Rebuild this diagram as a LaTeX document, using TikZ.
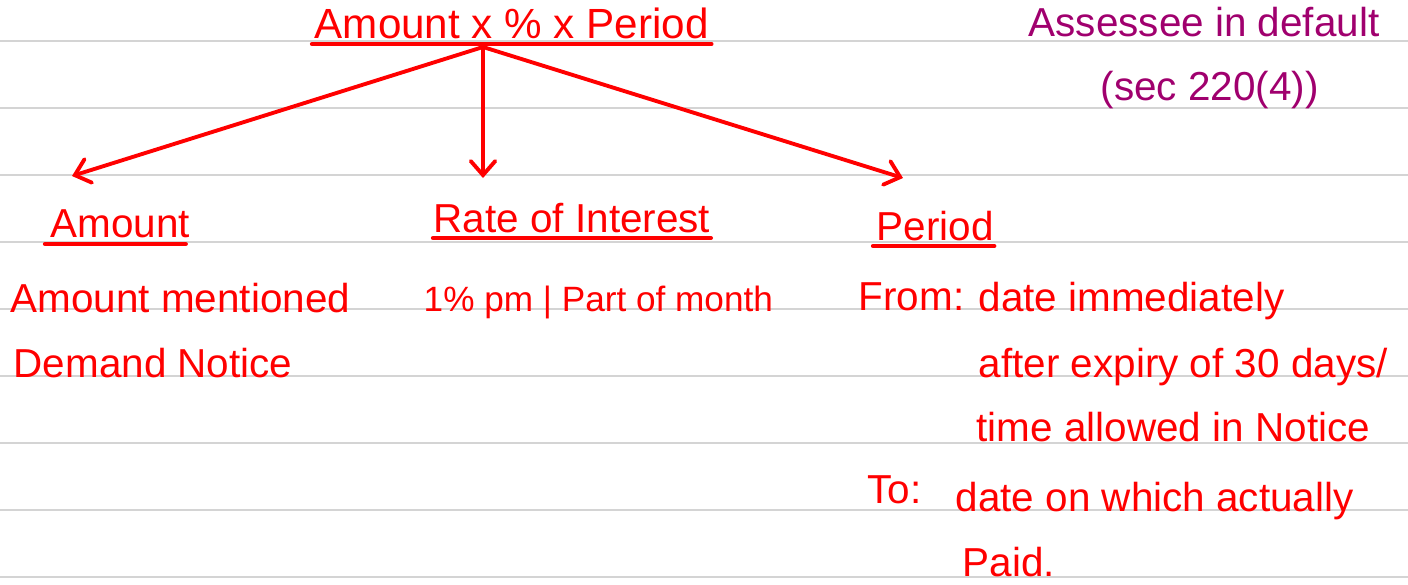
\documentclass[tikz,border=0pt]{standalone}
\usepackage{fontspec}
\setmainfont{Liberation Sans}
\usetikzlibrary{arrows.meta}
\definecolor{inkred}{RGB}{255,0,0}
\definecolor{inkplum}{RGB}{160,0,110}
\definecolor{rulegray}{RGB}{212,212,212}
\tikzset{
  barb/.tip={Straight Barb[length=4pt,width=7pt,line cap=round]},
  ruling/.style={rulegray,line width=0.6pt},
  note/.style={inkred,anchor=base west,inner sep=0pt,font=\fontsize{11.5}{14}\selectfont},
  aside/.style={note,text=inkplum},
  uline/.style={inkred,line width=1.2pt,line cap=round},
  branch/.style={inkred,line width=1.1pt,line cap=round,-barb}
}

\begin{document}
\begin{tikzpicture}[x=0.01cm,y=-0.01cm]
    \useasboundingbox (0,0) rectangle (1408,584);
    \foreach \y in {41,108,...,577}
        \draw[ruling] (0,\y) -- (1408,\y);

    \node[note,font=\fontsize{12}{14}\selectfont] (formula) at (314,38) {Amount x \% x Period};
    \draw[uline] ([shift={(-2,6)}]formula.base west) -- ([shift={(2,6)}]formula.base east);
    \node[aside] (default) at (1028,36) {Assessee in default};
    \node[aside] (section) at (1100,100) {(sec 220(4))};

    \coordinate (hub) at (483,47);
    \coordinate (toamount) at (72,176);
    \coordinate (torate) at (483,178);
    \coordinate (toperiod) at (903,178);
    \draw[branch] (hub) -- (toamount);
    \draw[branch] (hub) -- (torate);
    \draw[branch] (hub) -- (toperiod);

    \node[note] (amounthead) at (50,237) {Amount};
    \draw[uline] ([shift={(-5,7)}]amounthead.base west) -- ([shift={(-5,7)}]amounthead.base east);
    \node[note] (ratehead) at (433,232) {Rate of Interest};
    \draw[uline] ([shift={(0,6)}]ratehead.base west) -- ([shift={(0,6)}]ratehead.base east);
    \node[note] (periodhead) at (876,240) {Period};
    \draw[uline] ([shift={(-3,6)}]periodhead.base west) -- ([shift={(0,6)}]periodhead.base east);

    \node[note] (amount1) at (10,312) {Amount mentioned};
    \node[note] (amount2) at (13,377) {Demand Notice};
    \node[note,font=\fontsize{10}{12}\selectfont] (rate1) at (423,311) {1\% pm \textbar\ Part of month};

    \node[note] (from) at (858,310) {From:};
    \node[note] (from1) at (978,311) {date immediately};
    \node[note] (from2) at (978,377) {after expiry of 30 days/};
    \node[note] (from3) at (976,441) {time allowed in Notice};
    \node[note] (to) at (867,503) {To:};
    \node[note] (to1) at (955,511) {date on which actually};
    \node[note] (to2) at (962,576) {Paid.};
\end{tikzpicture}
\end{document}
